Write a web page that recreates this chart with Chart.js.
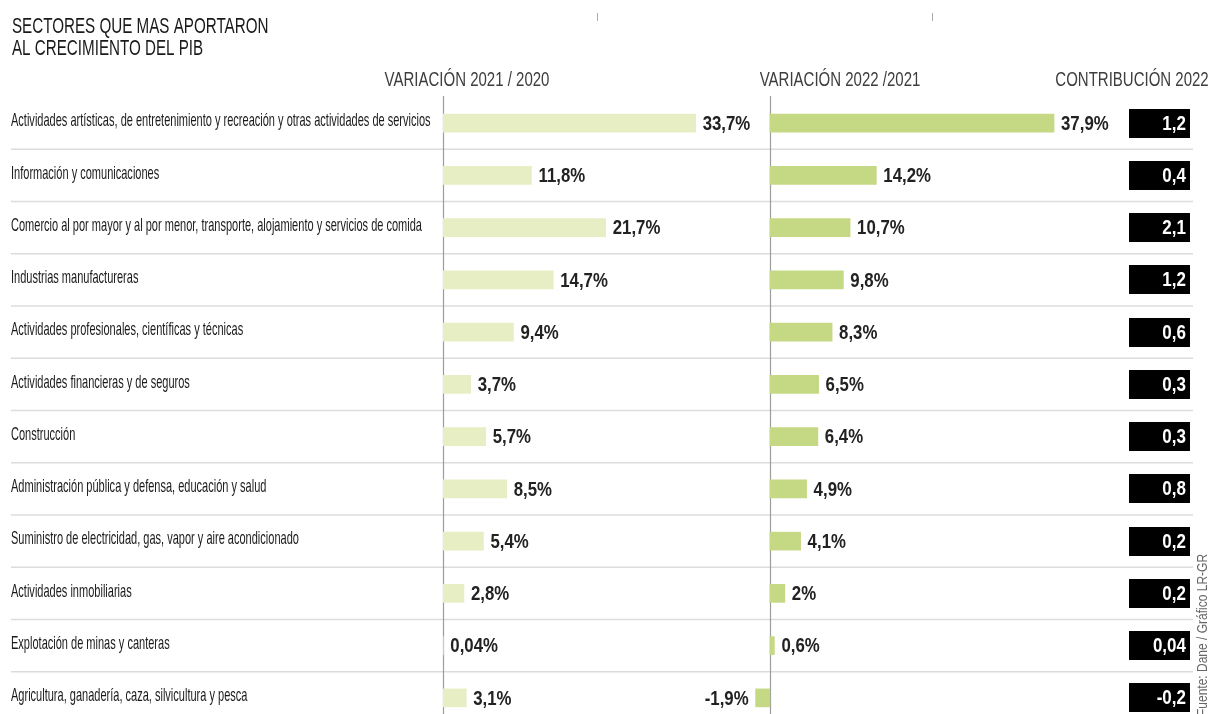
<!DOCTYPE html>
<html lang="es">
<head>
<meta charset="utf-8">
<title>Sectores que más aportaron al crecimiento del PIB</title>
<script src="https://cdn.jsdelivr.net/npm/chart.js@4.4.1/dist/chart.umd.min.js"></script>
<style>
  html, body { margin: 0; padding: 0; background: #ffffff; }
  #wrap { width: 1211px; height: 714px; overflow: hidden; position: relative; background: #fff; }
  canvas { display: block; }
</style>
</head>
<body>
<div id="wrap"><canvas id="c" width="1211" height="740"></canvas></div>
<script>
// ---------------- DATA ----------------
const titleLines = ['SECTORES QUE MAS APORTARON', 'AL CRECIMIENTO DEL PIB'];
const headers = ['VARIACIÓN 2021 / 2020', 'VARIACIÓN 2022 /2021', 'CONTRIBUCIÓN 2022'];
const sourceText = 'Fuente: Dane / Gráfico LR-GR';
const categories = [
  'Actividades artísticas, de entretenimiento y recreación y otras actividades de servicios',
  'Información y comunicaciones',
  'Comercio al por mayor y al por menor, transporte, alojamiento y servicios de comida',
  'Industrias manufactureras',
  'Actividades profesionales, científicas y técnicas',
  'Actividades financieras y de seguros',
  'Construcción',
  'Administración pública y defensa, educación y salud',
  'Suministro de electricidad, gas, vapor y aire acondicionado',
  'Actividades inmobiliarias',
  'Explotación de minas y canteras',
  'Agricultura, ganadería, caza, silvicultura y pesca'
];
const variacion2021 = [33.7, 11.8, 21.7, 14.7, 9.4, 3.7, 5.7, 8.5, 5.4, 2.8, 0.04, 3.1];
const variacion2022 = [37.9, 14.2, 10.7, 9.8, 8.3, 6.5, 6.4, 4.9, 4.1, 2, 0.6, -1.9];
const contribucion2022 = [1.2, 0.4, 2.1, 1.2, 0.6, 0.3, 0.3, 0.8, 0.2, 0.2, 0.04, -0.2];

// ---------------- STYLE ----------------
const FONT = '"Liberation Sans", Arial, sans-serif';
const LIGHT_GREEN = '#e8eec4';
const DARK_GREEN = '#c5d984';
const fmt = v => String(v).replace('.', ',');

function drawText(ctx, s, x, y, o) {
  ctx.save();
  ctx.font = o.font;
  ctx.fillStyle = o.color || '#222';
  ctx.textAlign = o.align || 'left';
  ctx.textBaseline = o.baseline || 'alphabetic';
  ctx.translate(x, y);
  if (o.rotate) ctx.rotate(o.rotate);
  ctx.scale(o.sx || 1, 1);
  ctx.fillText(s, 0, 0);
  ctx.restore();
}

const decorPlugin = {
  id: 'decor',
  beforeDatasetsDraw(chart) {
    const ctx = chart.ctx;
    const y = chart.scales.y;
    // row separators
    ctx.save();
    ctx.strokeStyle = '#dcdcdc';
    ctx.lineWidth = 1.5;
    for (let i = 0; i < categories.length - 1; i++) {
      const yy = (y.getPixelForValue(i) + y.getPixelForValue(i + 1)) / 2;
      ctx.beginPath();
      ctx.moveTo(11, yy);
      ctx.lineTo(1193, yy);
      ctx.stroke();
    }
    // zero lines of both panels
    ctx.strokeStyle = '#9c9c9c';
    ctx.lineWidth = 1.2;
    ['x1', 'x2'].forEach(id => {
      const px = Math.round(chart.scales[id].getPixelForValue(0)) + 0.5;
      ctx.beginPath();
      ctx.moveTo(px, 96);
      ctx.lineTo(px, chart.height);
      ctx.stroke();
    });
    // small marks at the top
    ctx.strokeStyle = '#aaaaaa';
    ctx.lineWidth = 1;
    [597.5, 932.5].forEach(px => {
      ctx.beginPath();
      ctx.moveTo(px, 13);
      ctx.lineTo(px, 21);
      ctx.stroke();
    });
    ctx.restore();
  },
  afterDraw(chart) {
    const ctx = chart.ctx;
    const y = chart.scales.y;
    // title
    drawText(ctx, titleLines[0], 12, 33, {font: '22px ' + FONT, color: '#1a1a1a', sx: 0.69});
    drawText(ctx, titleLines[1], 12, 55, {font: '22px ' + FONT, color: '#1a1a1a', sx: 0.69});
    // column headers
    const hx = [467, 840, 1132];
    headers.forEach((h, i) => drawText(ctx, h, hx[i], 86, {font: '20px ' + FONT, color: '#3e3e3e', sx: 0.75, align: 'center'}));
    // category labels
    categories.forEach((c, i) => {
      drawText(ctx, c, 11, y.getPixelForValue(i) - 2, {font: '19px ' + FONT, color: '#1a1a1a', sx: 0.58, baseline: 'middle'});
    });
    // value labels
    chart.data.datasets.forEach((ds, di) => {
      const meta = chart.getDatasetMeta(di);
      meta.data.forEach((el, i) => {
        const v = ds.data[i];
        const neg = v < 0;
        drawText(ctx, fmt(v) + '%', neg ? el.x - 7 : el.x + 7, el.y + 1, {
          font: 'bold 21px ' + FONT, color: '#222', sx: 0.8, baseline: 'middle', align: neg ? 'right' : 'left'
        });
      });
    });
    // contribution boxes
    contribucion2022.forEach((v, i) => {
      const yy = y.getPixelForValue(i);
      ctx.save();
      ctx.fillStyle = '#000';
      ctx.fillRect(1129, Math.round(yy - 14.5), 61, 29);
      ctx.restore();
      drawText(ctx, fmt(v), 1186, yy + 1, {font: 'bold 20px ' + FONT, color: '#fff', sx: 0.85, baseline: 'middle', align: 'right'});
    });
    // source (vertical)
    drawText(ctx, sourceText, 1203, 716, {font: '15px ' + FONT, color: '#666', sx: 0.8, baseline: 'middle', rotate: -Math.PI / 2});
  }
};

new Chart(document.getElementById('c'), {
  type: 'bar',
  data: {
    labels: categories,
    datasets: [
      {label: headers[0], data: variacion2021, xAxisID: 'x1', backgroundColor: LIGHT_GREEN, barThickness: 18, grouped: false, borderWidth: 0},
      {label: headers[1], data: variacion2022, xAxisID: 'x2', backgroundColor: DARK_GREEN, barThickness: 18, grouped: false, borderWidth: 0}
    ]
  },
  options: {
    indexAxis: 'y',
    responsive: false,
    animation: false,
    devicePixelRatio: 1,
    layout: {padding: {left: 443, right: 91, top: 97, bottom: 16}},
    plugins: {legend: {display: false}, tooltip: {enabled: false}, title: {display: false}},
    scales: {
      y: {type: 'category', display: false, offset: true},
      x1: {type: 'linear', position: 'bottom', stack: 'panels', stackWeight: 41.6, weight: 0, min: 0, max: 41.6, display: false},
      x2: {type: 'linear', position: 'bottom', stack: 'panels', stackWeight: 48.7, weight: 1, min: -2, max: 46.7, display: false}
    }
  },
  plugins: [decorPlugin]
});
</script>
</body>
</html>
